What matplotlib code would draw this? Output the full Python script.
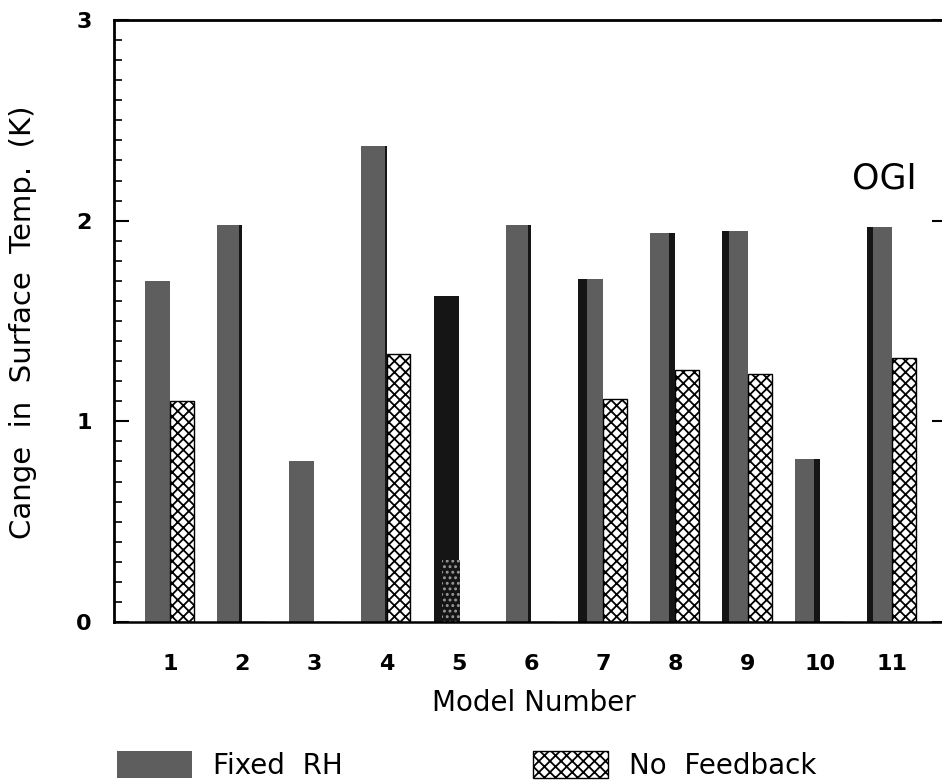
import numpy as np
import matplotlib
matplotlib.use('Agg')
import matplotlib.pyplot as plt
from matplotlib.patches import Patch
from matplotlib.ticker import MultipleLocator

plt.rcParams['font.family'] = ['DejaVu Sans']
plt.rcParams['hatch.linewidth'] = 1.3

# values
models = [1, 2, 3, 4, 5, 6, 7, 8, 9, 10, 11]
fixed_rh = [1.70, 1.98, 0.80, 2.37, 1.625, 1.98, 1.71, 1.94, 1.95, 0.81, 1.97]
no_feedback = [1.10, 0.0, 0.0, 1.335, 0.31, 0.0, 1.11, 1.255, 1.235, 0.0, 1.315]

# dark scan shading on the grey bars: side and share of bar width
dark_side = [None, 'r', None, 'r', 'l', 'r', 'l', 'r', 'l', 'r', 'l']
dark_frac = [0.0, 0.12, 0.0, 0.08, 1.0, 0.12, 0.36, 0.25, 0.27, 0.24, 0.24]
# model whose no-feedback bar printed as speckle on top of the dark bar
speckled = 5

GREY = '#5e5e5e'
DARK = '#151515'
HATCH = 'xxx'
w_rh, w_nf = 0.35, 0.33

fig = plt.figure(figsize=(9.42, 7.82), dpi=100)
ax = fig.add_axes([114/942, 160/782, (947-114)/942, 602/782])

x = np.array(models, dtype=float)
nf = np.array(no_feedback)
normal = np.array(models) != speckled

ax.bar(x, fixed_rh, width=-w_rh, align='edge', color=GREY, linewidth=0)
ax.bar(x[normal], nf[normal], width=w_nf, align='edge', facecolor='white',
       edgecolor='black', hatch=HATCH, linewidth=1.0)

# scanner shading strips
for xi, h, side, f in zip(x, fixed_rh, dark_side, dark_frac):
    if side is None or f == 0:
        continue
    w = f * w_rh
    left = xi - w if side == 'r' else xi - w_rh
    ax.bar(left, h, width=w, align='edge', color=DARK, linewidth=0)

i5 = models.index(speckled)
ax.bar(x[i5] - 0.24, nf[i5], width=0.26, align='edge',
       facecolor=DARK, edgecolor='#9a9a9a', hatch='...', linewidth=0)

ax.set_xlim(0.224, 11.76)
ax.set_ylim(0, 3)
ax.set_xticks(models)
ax.set_xticklabels([str(m) for m in models], fontsize=16, fontweight='bold')
ax.set_yticks([0, 1, 2, 3])
ax.set_yticklabels(['0', '1', '2', '3'], fontsize=16, fontweight='bold')
ax.yaxis.set_minor_locator(MultipleLocator(0.1))
ax.tick_params(axis='y', which='major', direction='in', length=11, width=1.5,
               left=True, right=True, pad=16)
ax.tick_params(axis='y', which='minor', direction='in', length=6, width=1.2,
               left=True, right=False)
ax.tick_params(axis='x', length=0, pad=23)

for s in ['top', 'left', 'right']:
    ax.spines[s].set_linewidth(2)
ax.spines['bottom'].set_linewidth(1.8)

ax.set_ylabel('Cange  in  Surface  Temp.  (K)', fontsize=21)
ax.yaxis.set_label_coords(-0.0925, 0.498)
ax.set_xlabel('Model Number', fontsize=20)
ax.xaxis.set_label_coords(0.504, -0.112)

ax.text(10.89, 2.21, 'OGI', fontsize=25, ha='center', va='center')

handles = [Patch(facecolor=GREY, linewidth=0),
           Patch(facecolor='white', edgecolor='black', hatch=HATCH, linewidth=1.0)]
fig.legend(handles, ['Fixed  RH', 'No  Feedback'], loc='lower left',
           bbox_to_anchor=(117/942, 2/782), ncol=2, frameon=False, fontsize=20,
           handlelength=2.7, handleheight=1.15, handletextpad=0.75,
           columnspacing=6.85, borderpad=0, borderaxespad=0)

fig.savefig('out.png', dpi=100)
